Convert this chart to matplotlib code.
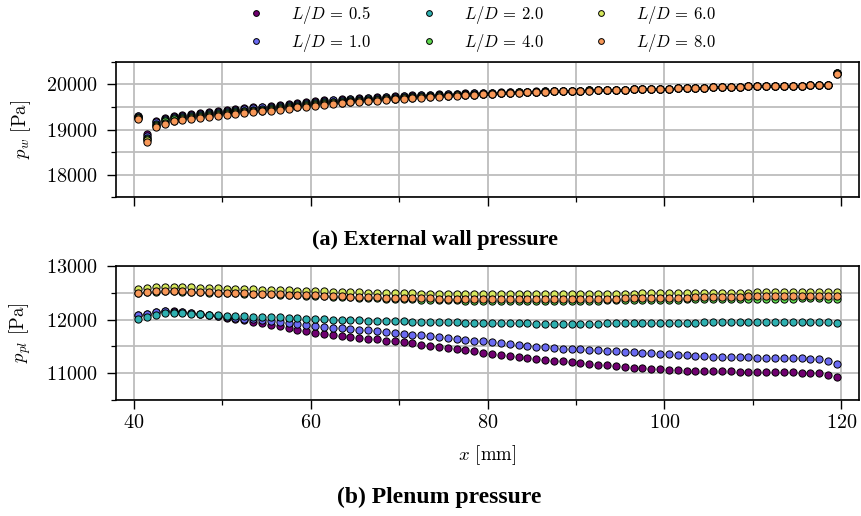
import numpy as np
import matplotlib
matplotlib.use("Agg")
import matplotlib.pyplot as plt
from matplotlib.ticker import MultipleLocator

plt.rcParams["font.family"] = "serif"
plt.rcParams["font.serif"] = ["cmr10", "DejaVu Serif"]
plt.rcParams["mathtext.fontset"] = "cm"
plt.rcParams["axes.formatter.use_mathtext"] = True

# probe positions [mm]
x_mm = np.arange(40.5, 120.0, 1.0)

labels = ["0.5", "1.0", "2.0", "4.0", "6.0", "8.0"]
colors = ["#700070", "#6a6af2", "#2eb0b0", "#5ed84e", "#d6e85c", "#f89858"]

# (a) external wall pressure [Pa]
pw_05 = [19300, 18890, 19180, 19260, 19300, 19330, 19350, 19370, 19390, 19410,
         19430, 19450, 19470, 19490, 19510, 19530, 19550, 19570, 19590, 19610,
         19630, 19645, 19660, 19670, 19685, 19695, 19710, 19720, 19730, 19740,
         19750, 19760, 19770, 19775, 19780, 19790, 19795, 19800, 19805, 19810,
         19820, 19825, 19830, 19835, 19840, 19845, 19850, 19852, 19855, 19860,
         19865, 19868, 19872, 19876, 19880, 19885, 19890, 19895, 19900, 19905,
         19910, 19915, 19920, 19925, 19930, 19935, 19940, 19945, 19950, 19955,
         19958, 19962, 19965, 19968, 19972, 19975, 19980, 19985, 19990, 20250]
pw_10 = [19290, 18860, 19160, 19240, 19280, 19310, 19330, 19350, 19370, 19390,
         19410, 19430, 19450, 19470, 19490, 19510, 19530, 19550, 19570, 19590,
         19610, 19630, 19645, 19655, 19670, 19680, 19695, 19705, 19720, 19730,
         19740, 19750, 19760, 19765, 19772, 19780, 19787, 19793, 19800, 19805,
         19815, 19820, 19825, 19830, 19838, 19842, 19848, 19850, 19853, 19858,
         19863, 19867, 19871, 19876, 19880, 19885, 19890, 19895, 19900, 19905,
         19910, 19915, 19920, 19925, 19930, 19935, 19940, 19945, 19950, 19955,
         19958, 19962, 19965, 19968, 19972, 19975, 19980, 19985, 19990, 20250]
pw_20 = [19270, 18820, 19130, 19210, 19250, 19280, 19300, 19320, 19340, 19360,
         19380, 19400, 19420, 19440, 19460, 19480, 19500, 19520, 19540, 19560,
         19585, 19605, 19620, 19630, 19645, 19655, 19670, 19680, 19695, 19705,
         19718, 19730, 19740, 19747, 19755, 19765, 19772, 19780, 19787, 19795,
         19805, 19812, 19818, 19825, 19833, 19838, 19844, 19847, 19851, 19857,
         19862, 19866, 19871, 19875, 19880, 19885, 19890, 19895, 19900, 19905,
         19910, 19915, 19920, 19925, 19930, 19935, 19940, 19945, 19950, 19955,
         19958, 19962, 19965, 19968, 19972, 19975, 19980, 19985, 19990, 20245]
pw_40 = [19255, 18790, 19105, 19180, 19225, 19255, 19280, 19300, 19320, 19340,
         19360, 19380, 19400, 19420, 19440, 19460, 19480, 19500, 19520, 19540,
         19565, 19585, 19600, 19610, 19625, 19635, 19650, 19660, 19677, 19688,
         19700, 19715, 19725, 19733, 19742, 19752, 19760, 19769, 19777, 19786,
         19798, 19806, 19814, 19822, 19831, 19836, 19842, 19846, 19850, 19856,
         19861, 19866, 19870, 19875, 19880, 19885, 19890, 19895, 19900, 19905,
         19910, 19915, 19920, 19925, 19930, 19935, 19940, 19945, 19950, 19955,
         19958, 19962, 19965, 19968, 19972, 19975, 19980, 19985, 19990, 20245]
pw_60 = [19245, 18760, 19085, 19155, 19200, 19230, 19260, 19280, 19300, 19320,
         19340, 19360, 19380, 19400, 19420, 19440, 19460, 19480, 19505, 19525,
         19548, 19568, 19585, 19595, 19612, 19622, 19640, 19650, 19668, 19679,
         19690, 19707, 19717, 19727, 19736, 19746, 19755, 19765, 19773, 19783,
         19794, 19803, 19812, 19821, 19830, 19835, 19841, 19845, 19850, 19855,
         19860, 19865, 19870, 19875, 19880, 19885, 19890, 19895, 19900, 19905,
         19910, 19915, 19920, 19925, 19930, 19935, 19940, 19945, 19950, 19955,
         19958, 19962, 19965, 19968, 19972, 19975, 19980, 19985, 19990, 20240]
pw_80 = [19230, 18730, 19060, 19130, 19180, 19210, 19240, 19260, 19280, 19300,
         19320, 19340, 19360, 19380, 19400, 19420, 19440, 19460, 19490, 19510,
         19530, 19550, 19570, 19580, 19600, 19610, 19630, 19640, 19660, 19670,
         19680, 19700, 19710, 19720, 19730, 19740, 19750, 19760, 19770, 19780,
         19790, 19800, 19810, 19820, 19830, 19835, 19840, 19845, 19850, 19855,
         19860, 19865, 19870, 19875, 19880, 19885, 19890, 19895, 19900, 19905,
         19910, 19915, 19920, 19925, 19930, 19935, 19940, 19945, 19950, 19955,
         19958, 19962, 19965, 19968, 19972, 19975, 19980, 19985, 19990, 20240]

# (b) plenum pressure [Pa]
ppl_05 = [12090, 12110, 12150, 12165, 12160, 12140, 12120, 12100, 12080, 12060,
          12035, 12010, 11985, 11960, 11935, 11905, 11875, 11845, 11815, 11785,
          11755, 11735, 11715, 11700, 11680, 11660, 11645, 11630, 11610, 11595,
          11575, 11555, 11535, 11510, 11490, 11465, 11445, 11425, 11405, 11385,
          11360, 11340, 11320, 11300, 11285, 11265, 11250, 11235, 11220, 11205,
          11190, 11175, 11160, 11150, 11130, 11115, 11100, 11090, 11080, 11070,
          11060, 11055, 11050, 11045, 11040, 11038, 11035, 11033, 11030, 11028,
          11025, 11023, 11020, 11018, 11015, 11010, 11005, 10995, 10965, 10935]
ppl_10 = [12080, 12100, 12140, 12155, 12150, 12135, 12115, 12100, 12085, 12070,
          12050, 12035, 12020, 12005, 11990, 11975, 11955, 11935, 11915, 11895,
          11875, 11860, 11850, 11840, 11825, 11810, 11800, 11785, 11770, 11755,
          11735, 11720, 11705, 11690, 11670, 11650, 11635, 11620, 11605, 11595,
          11580, 11565, 11550, 11530, 11510, 11490, 11480, 11470, 11460, 11450,
          11445, 11435, 11428, 11420, 11410, 11400, 11390, 11380, 11370, 11360,
          11350, 11340, 11332, 11325, 11318, 11310, 11305, 11300, 11298, 11295,
          11292, 11290, 11288, 11285, 11282, 11278, 11272, 11262, 11225, 11180]
ppl_20 = [12010, 12050, 12090, 12115, 12125, 12120, 12110, 12100, 12090, 12080,
          12070, 12065, 12060, 12055, 12050, 12045, 12040, 12030, 12025, 12015,
          12010, 12005, 12000, 11995, 11990, 11985, 11980, 11976, 11972, 11968,
          11965, 11961, 11958, 11955, 11952, 11949, 11946, 11943, 11940, 11938,
          11935, 11933, 11931, 11929, 11928, 11927, 11926, 11925, 11925, 11925,
          11925, 11926, 11927, 11928, 11930, 11931, 11933, 11935, 11937, 11939,
          11940, 11942, 11944, 11945, 11947, 11948, 11950, 11951, 11953, 11954,
          11955, 11956, 11957, 11958, 11958, 11957, 11956, 11954, 11950, 11945]
ppl_40 = [12495, 12510, 12520, 12525, 12525, 12520, 12515, 12510, 12505, 12500,
          12495, 12490, 12485, 12480, 12475, 12470, 12465, 12458, 12452, 12446,
          12440, 12434, 12428, 12422, 12416, 12410, 12404, 12398, 12393, 12388,
          12383, 12378, 12374, 12370, 12366, 12362, 12359, 12356, 12354, 12352,
          12350, 12349, 12348, 12347, 12347, 12347, 12348, 12349, 12350, 12351,
          12352, 12354, 12356, 12358, 12360, 12362, 12364, 12366, 12368, 12370,
          12372, 12374, 12376, 12378, 12380, 12382, 12384, 12386, 12387, 12388,
          12389, 12390, 12391, 12392, 12393, 12394, 12395, 12395, 12393, 12390]
ppl_60 = [12570, 12590, 12600, 12610, 12610, 12605, 12600, 12595, 12590, 12585,
          12580, 12575, 12570, 12565, 12560, 12555, 12550, 12545, 12540, 12535,
          12530, 12525, 12520, 12516, 12512, 12508, 12504, 12500, 12497, 12494,
          12491, 12488, 12486, 12484, 12482, 12480, 12478, 12477, 12476, 12475,
          12474, 12473, 12472, 12472, 12472, 12472, 12473, 12474, 12475, 12476,
          12477, 12478, 12480, 12481, 12483, 12484, 12486, 12487, 12489, 12490,
          12492, 12494, 12495, 12497, 12498, 12500, 12501, 12503, 12504, 12505,
          12506, 12507, 12508, 12509, 12510, 12511, 12512, 12512, 12511, 12510]
ppl_80 = [12500, 12515, 12525, 12530, 12530, 12525, 12520, 12515, 12510, 12505,
          12500, 12495, 12490, 12485, 12480, 12475, 12470, 12465, 12460, 12455,
          12450, 12445, 12440, 12435, 12430, 12425, 12420, 12416, 12412, 12408,
          12405, 12402, 12399, 12396, 12393, 12390, 12388, 12386, 12384, 12383,
          12382, 12381, 12380, 12380, 12380, 12380, 12381, 12382, 12383, 12384,
          12385, 12387, 12389, 12391, 12393, 12395, 12397, 12399, 12401, 12403,
          12405, 12408, 12411, 12414, 12417, 12420, 12423, 12426, 12429, 12432,
          12435, 12437, 12439, 12441, 12443, 12445, 12447, 12448, 12447, 12445]

pw_series = [pw_05, pw_10, pw_20, pw_40, pw_60, pw_80]
ppl_series = [ppl_05, ppl_10, ppl_20, ppl_40, ppl_60, ppl_80]

fig = plt.figure(figsize=(8.62, 5.16), dpi=100)
ax1 = fig.add_axes([0.1346, 0.618, 0.862, 0.262])
ax2 = fig.add_axes([0.1346, 0.2248, 0.862, 0.2597])


def style_axis(ax):
    ax.set_xlim(38, 122)
    ax.xaxis.set_major_locator(MultipleLocator(20))
    ax.xaxis.set_minor_locator(MultipleLocator(10))
    ax.grid(True, which="both", color="#bdbdbd", linewidth=1.3)
    ax.set_axisbelow(True)
    ax.tick_params(which="major", direction="out", length=6.5, width=1.0,
                   labelsize=14.5)
    ax.tick_params(which="minor", direction="out", length=3.5, width=0.9)
    ax.tick_params(axis="y", which="major", pad=7)
    for sp in ax.spines.values():
        sp.set_linewidth(1.2)


for ys, lab, col in zip(pw_series, labels, colors):
    ax1.plot(x_mm, ys, "o", ms=5.2, mfc=col, mec="black", mew=0.7,
             label=rf"$L/D\,=\,{lab}$")
style_axis(ax1)
ax1.set_ylim(17500, 20500)
ax1.yaxis.set_major_locator(MultipleLocator(1000))
ax1.yaxis.set_minor_locator(MultipleLocator(500))
ax1.tick_params(labelbottom=False)
ax1.set_ylabel(r"$p_w$ [Pa]", fontsize=13.5, labelpad=9)

for ys, col in zip(ppl_series, colors):
    ax2.plot(x_mm, ys, "o", ms=5.2, mfc=col, mec="black", mew=0.7)
style_axis(ax2)
ax2.set_ylim(10500, 13000)
ax2.yaxis.set_major_locator(MultipleLocator(1000))
ax2.yaxis.set_minor_locator(MultipleLocator(500))
ax2.set_ylabel(r"$p_{pl}$ [Pa]", fontsize=13.5, labelpad=9)
ax2.set_xlabel(r"$x$ [mm]", fontsize=13.5, labelpad=8)

fig.text(0.505, 0.535, "(a) External wall pressure", ha="center", va="center",
         family="Liberation Serif", weight="bold", fontsize=16)
fig.text(0.51, 0.037, "(b) Plenum pressure", ha="center", va="center",
         family="Liberation Serif", weight="bold", fontsize=17)

fig.legend(loc="upper center", bbox_to_anchor=(0.554, 1.022), ncol=3,
           frameon=False, fontsize=12, markerscale=0.8, handletextpad=1.1,
           columnspacing=2.45, labelspacing=0.4)

fig.savefig("out.png", dpi=100)
